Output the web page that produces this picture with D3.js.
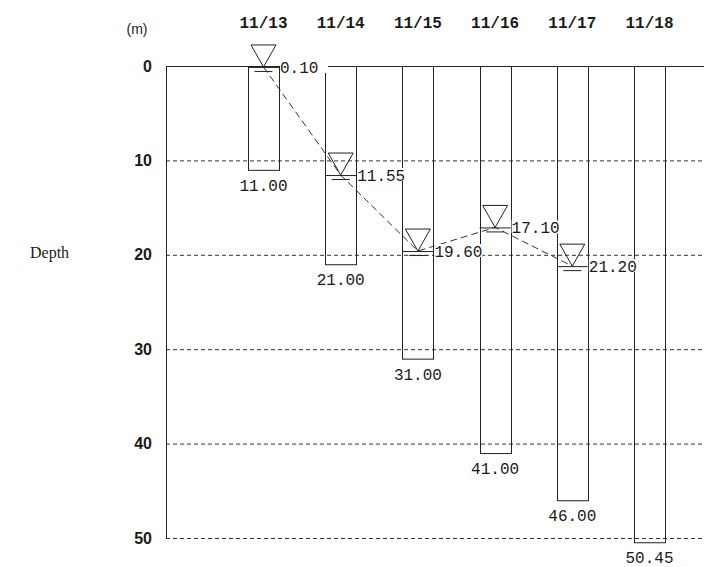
<!DOCTYPE html>
<html>
<head>
<meta charset="utf-8">
<script src="https://cdn.jsdelivr.net/npm/d3@7"></script>
<style>
  body { margin: 0; background: #fff; }
  svg text { fill: #1a1a1a; }
</style>
</head>
<body>
<svg id="chart" width="704" height="567"></svg>
<script>
// boring data
var dates = ['11/13', '11/14', '11/15', '11/16', '11/17', '11/18'];
var holeDepths = [11.00, 21.00, 31.00, 41.00, 46.00, 50.45];
var waterLevels = [0.10, 11.55, 19.60, 17.10, 21.20, null];
var depthTicks = [0, 10, 20, 30, 40, 50];

var svg = d3.select('#chart'),
    margin = {top: 66, right: 0, bottom: 29, left: 166},
    width = +svg.attr('width') - margin.left - margin.right,
    height = +svg.attr('height') - margin.top - margin.bottom,
    g = svg.append('g').attr('transform', 'translate(' + margin.left + ',' + margin.top + ')');

var ink = '#222';
var colW = 31;

var y = d3.scaleLinear().domain([0, 50]).range([0, height]);
var x = d3.scalePoint().domain(dates).range([263.5 - margin.left, 649.5 - margin.left]);

// dashed depth grid
g.append('g').selectAll('line')
    .data(depthTicks.slice(1))
    .enter().append('line')
    .attr('x1', 0).attr('x2', width)
    .attr('y1', function (d) { return y(d) + 0.5; })
    .attr('y2', function (d) { return y(d) + 0.5; })
    .attr('stroke', '#333')
    .attr('stroke-dasharray', '4,3');

// ground line + left edge
g.append('line')
    .attr('x1', 0).attr('x2', width).attr('y1', 0.5).attr('y2', 0.5)
    .attr('stroke', ink);
g.append('line')
    .attr('x1', 0.5).attr('x2', 0.5).attr('y1', 0).attr('y2', y(50))
    .attr('stroke', ink);

// y axis labels
var yAxis = d3.axisLeft(y).tickValues(depthTicks).tickSize(0).tickPadding(14);
var yAxisGroup = g.append('g').call(yAxis);
yAxisGroup.select('.domain').remove();
yAxisGroup.selectAll('text')
    .attr('fill', '#1a1a1a')
    .style('font', 'bold 16px "Liberation Sans", Arial, sans-serif');

// boreholes
var holes = dates.map(function (d, i) {
  return {date: d, depth: holeDepths[i], water: waterLevels[i]};
});

g.append('g').selectAll('rect')
    .data(holes)
    .enter().append('rect')
    .attr('x', function (d) { return Math.round(x(d.date) - colW / 2) + 0.5; })
    .attr('y', 0.5)
    .attr('width', colW)
    .attr('height', function (d) { return y(d.depth); })
    .attr('fill', 'none')
    .attr('stroke', ink);

g.append('g').selectAll('text')
    .data(holes)
    .enter().append('text')
    .attr('x', function (d) { return x(d.date); })
    .attr('y', function (d) { return y(d.depth) + 21; })
    .attr('text-anchor', 'middle')
    .style('font', '16px "Liberation Mono", monospace')
    .text(function (d) { return d.depth.toFixed(2); });

// date headers
svg.append('g').selectAll('text')
    .data(dates)
    .enter().append('text')
    .attr('x', function (d) { return margin.left + x(d); })
    .attr('y', 28)
    .attr('text-anchor', 'middle')
    .style('font', 'bold 16px "Liberation Mono", monospace')
    .text(function (d) { return d; });

svg.append('text')
    .attr('x', 137).attr('y', 34)
    .attr('text-anchor', 'middle')
    .style('font', '14px "Liberation Sans", sans-serif')
    .text('(m)');

svg.append('text')
    .attr('x', 30).attr('y', 258)
    .style('font', '16px "Liberation Serif", "Times New Roman", serif')
    .text('Depth');

// water level
var wl = holes.filter(function (d) { return d.water !== null; });

var line = d3.line()
    .x(function (d) { return x(d.date); })
    .y(function (d) { return y(d.water); });

g.append('path')
    .datum(wl)
    .attr('d', line)
    .attr('fill', 'none')
    .attr('stroke', '#333')
    .attr('stroke-dasharray', '7,4');

var marks = g.append('g').selectAll('g')
    .data(wl)
    .enter().append('g')
    .attr('transform', function (d) { return 'translate(' + x(d.date) + ',' + y(d.water) + ')'; });

marks.append('path')
    .attr('d', 'M-12.5,-22L12.5,-22L0,0Z')
    .attr('fill', 'none')
    .attr('stroke', ink);
marks.append('line')
    .attr('x1', -colW / 2).attr('x2', colW / 2).attr('y1', 0.5).attr('y2', 0.5)
    .attr('stroke', ink);
marks.append('line')
    .attr('x1', -9).attr('x2', 9).attr('y1', 4.5).attr('y2', 4.5)
    .attr('stroke', ink);

var wlLabels = marks.append('g')
    .attr('transform', 'translate(' + (colW / 2 + 1) + ',0)');
wlLabels.append('rect')
    .attr('x', 0).attr('y', -7)
    .attr('width', 48).attr('height', 13)
    .attr('fill', '#fff');
wlLabels.append('text')
    .attr('dy', '0.35em')
    .style('font', '16px "Liberation Mono", monospace')
    .text(function (d) { return d.water.toFixed(2); });
</script>
</body>
</html>
